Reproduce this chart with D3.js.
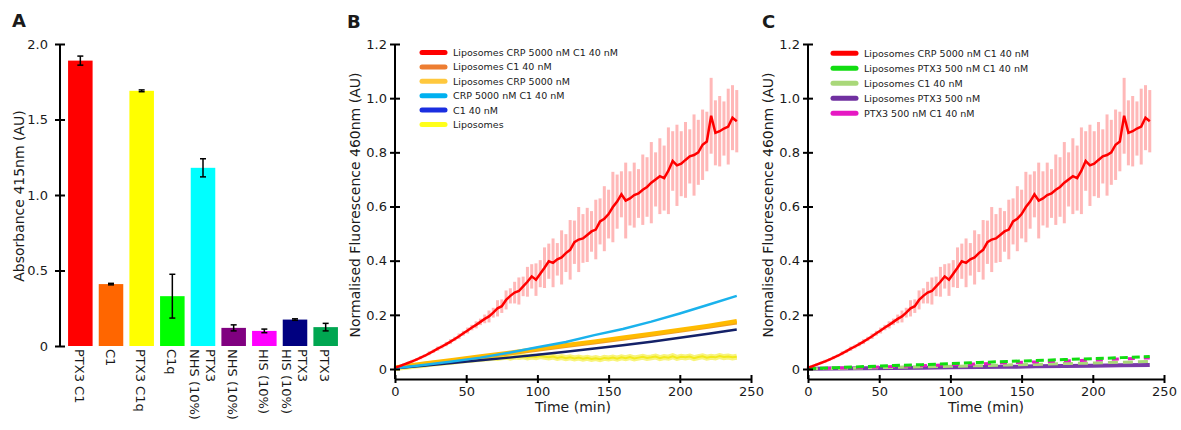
<!DOCTYPE html>
<html>
<head>
<meta charset="utf-8">
<script src="https://cdn.jsdelivr.net/npm/d3@7"></script>
<style>
  body { margin: 0; background: #fff; }
  text { font-family: "DejaVu Sans", Verdana, sans-serif; fill: #1a1a1a; }
</style>
</head>
<body>
<script>
// ---- panel A data
const catsA = ["PTX3 C1", "C1", "PTX3 C1q", "C1q", "NHS PTX3", "NHS", "HIS", "HIS PTX3", "PTX3"]
const labelsA = [["PTX3 C1"], ["C1"], ["PTX3 C1q"], ["C1q"], ["PTX3", "NHS (10%)"], ["NHS (10%)"], ["HIS (10%)"], ["PTX3", "HIS (10%)"], ["PTX3"]]
const valuesA = [1.89, 0.41, 1.69, 0.33, 1.18, 0.12, 0.10, 0.175, 0.125]
const errorsA = [0.03, 0.005, 0.006, 0.145, 0.06, 0.02, 0.012, 0.005, 0.025]
const colorsA = ["#ff0000", "#ff6600", "#ffff00", "#00ff00", "#00ffff", "#800080", "#ff00ff", "#000080", "#00a651"]
const ticksA = [0, 0.5, 1.0, 1.5, 2.0]

// ---- time courses (B and C)
const timeFine = d3.range(0, 241, 3)   // every 3 min
const timeCoarse = d3.range(0, 241, 20)
const redMean = [0.005, 0.010, 0.016, 0.022, 0.028, 0.035, 0.042, 0.049, 0.058, 0.066,
  0.075, 0.083, 0.092, 0.101, 0.111, 0.121, 0.132, 0.142, 0.153, 0.163,
  0.174, 0.185, 0.194, 0.208, 0.224, 0.232, 0.255, 0.270, 0.282, 0.288,
  0.305, 0.322, 0.342, 0.330, 0.352, 0.374, 0.398, 0.392, 0.405, 0.412,
  0.428, 0.440, 0.468, 0.478, 0.482, 0.495, 0.508, 0.515, 0.545, 0.555,
  0.572, 0.598, 0.618, 0.645, 0.622, 0.630, 0.642, 0.648, 0.662, 0.672,
  0.688, 0.700, 0.712, 0.705, 0.732, 0.768, 0.752, 0.758, 0.772, 0.785,
  0.790, 0.800, 0.828, 0.840, 0.935, 0.872, 0.878, 0.888, 0.895, 0.928, 0.915]
const redErr = [0.004, 0.004, 0.005, 0.004, 0.006, 0.005, 0.006, 0.005, 0.007, 0.006,
  0.008, 0.007, 0.008, 0.009, 0.008, 0.010, 0.009, 0.011, 0.010, 0.013,
  0.012, 0.016, 0.022, 0.018, 0.030, 0.025, 0.035, 0.028, 0.040, 0.050,
  0.036, 0.055, 0.045, 0.060, 0.050, 0.075, 0.065, 0.090, 0.060, 0.100,
  0.070, 0.110, 0.080, 0.120, 0.090, 0.100, 0.075, 0.110, 0.085, 0.120,
  0.090, 0.130, 0.100, 0.085, 0.140, 0.100, 0.120, 0.090, 0.130, 0.110,
  0.150, 0.100, 0.140, 0.120, 0.160, 0.110, 0.150, 0.120, 0.140, 0.100,
  0.150, 0.120, 0.130, 0.110, 0.140, 0.120, 0.130, 0.100, 0.140, 0.120, 0.115]
const yellowMean = [0.003, 0.005, 0.007, 0.009, 0.011, 0.013, 0.014, 0.016, 0.018, 0.020,
  0.021, 0.023, 0.025, 0.026, 0.028, 0.030, 0.031, 0.033, 0.034, 0.036,
  0.037, 0.039, 0.040, 0.042, 0.041, 0.043, 0.045, 0.042, 0.046, 0.044,
  0.047, 0.043, 0.046, 0.044, 0.048, 0.045, 0.043, 0.046, 0.041, 0.044,
  0.040, 0.043, 0.039, 0.042, 0.038, 0.041, 0.037, 0.040, 0.036, 0.041,
  0.039, 0.042, 0.038, 0.043, 0.040, 0.044, 0.039, 0.042, 0.045, 0.041,
  0.043, 0.046, 0.040, 0.044, 0.042, 0.047, 0.041, 0.045, 0.043, 0.046,
  0.040, 0.044, 0.047, 0.042, 0.045, 0.043, 0.048, 0.044, 0.046, 0.043, 0.045]
const cyanB   = [0.003, 0.015, 0.028, 0.042, 0.060, 0.080, 0.100, 0.125, 0.148, 0.175, 0.205, 0.237, 0.270]
const goldB   = [0.005, 0.020, 0.033, 0.047, 0.060, 0.075, 0.089, 0.102, 0.116, 0.130, 0.145, 0.160, 0.177]
const orangeB = [0.004, 0.018, 0.030, 0.044, 0.057, 0.071, 0.085, 0.098, 0.112, 0.126, 0.141, 0.156, 0.172]
const navyB   = [0.003, 0.012, 0.022, 0.032, 0.042, 0.053, 0.064, 0.076, 0.088, 0.101, 0.115, 0.130, 0.146]
const greenC  = [0.001, 0.005, 0.009, 0.013, 0.016, 0.020, 0.024, 0.028, 0.031, 0.035, 0.038, 0.042, 0.046]
const magentaC = [0.001, 0.003, 0.006, 0.009, 0.012, 0.016, 0.019, 0.023, 0.026, 0.030, 0.033, 0.037, 0.041]
const lightGreenC = [0.001, 0.002, 0.004, 0.006, 0.008, 0.010, 0.012, 0.015, 0.017, 0.020, 0.022, 0.025, 0.028]
const purpleC = [0.001, 0.002, 0.003, 0.004, 0.005, 0.006, 0.007, 0.008, 0.010, 0.011, 0.012, 0.014, 0.015]

const legendB = ["Liposomes CRP 5000 nM C1 40 nM", "Liposomes C1 40 nM", "Liposomes CRP 5000 nM", "CRP 5000 nM C1 40 nM", "C1 40 nM", "Liposomes"]
const legendBColors = ["#ff0000", "#ed7d31", "#ffc83d", "#00b0f0", "#1a2ee0", "#ffff1a"]
const legendC = ["Liposomes CRP 5000 nM C1 40 nM", "Liposomes PTX3 500 nM C1 40 nM", "Liposomes C1 40 nM", "Liposomes PTX3 500 nM", "PTX3 500 nM C1 40 nM"]
const legendCColors = ["#ff0000", "#11dd11", "#a9d879", "#7030a0", "#e619c3"]
const ticksY = [0, 0.2, 0.4, 0.6, 0.8, 1.0, 1.2]
const ticksX = [0, 50, 100, 150, 200, 250]

const svg = d3.select("body").append("svg").attr("width", 1181).attr("height", 430)

function yAxis(scale, x, ticks, fmt, pad, bottom) {
    const g = svg.append("g").attr("transform", "translate(" + x + ",0)")
        .call(d3.axisLeft(scale).tickValues(ticks).tickFormat(fmt).tickSize(5).tickPadding(pad))
    g.select(".domain").remove()
    g.selectAll(".tick line").attr("x1", 5).attr("stroke-width", 2)
    g.selectAll(".tick text").attr("font-size", 13).attr("fill", "#1a1a1a")
    g.append("line").attr("y1", scale.range()[1]).attr("y2", bottom)
        .attr("stroke", "#000").attr("stroke-width", 2)
}

function xAxis(scale, y) {
    const g = svg.append("g").attr("transform", "translate(0," + y + ")")
        .call(d3.axisBottom(scale).tickValues(ticksX).tickSize(4).tickSizeOuter(0).tickPadding(4))
    g.select(".domain").attr("stroke-width", 2)
    g.selectAll(".tick line").attr("y1", -4).attr("stroke-width", 2)
    g.selectAll(".tick text").attr("font-size", 13).attr("fill", "#1a1a1a")
}

function panelLetter(t, x, y) {
    svg.append("text").attr("x", x).attr("y", y).text(t)
        .attr("font-family", "Liberation Sans, Arial").attr("font-weight", "bold").attr("font-size", 18).attr("fill", "#000")
}

function yTitle(t, x, y) {
    svg.append("text").attr("transform", "translate(" + x + "," + y + ") rotate(-90)")
        .attr("text-anchor", "middle").attr("font-size", 14).text(t)
}

// ---------------- panel A
const yA = d3.scaleLinear([0, 2], [346, 44])
const xA = d3.scaleBand(catsA, [65, 341]).paddingInner(0.2).paddingOuter(0.1)

svg.append("g").selectAll("rect").data(catsA).join("rect")
    .attr("x", d => xA(d)).attr("width", xA.bandwidth())
    .attr("y", (d, i) => yA(valuesA[i])).attr("height", (d, i) => yA(0) - yA(valuesA[i]))
    .attr("fill", (d, i) => colorsA[i])

const errA = svg.append("g").attr("stroke", "#000").attr("stroke-width", 1.5)
catsA.forEach(function(c, i) {
    const cx = xA(c) + xA.bandwidth() / 2
    const lo = yA(valuesA[i] - errorsA[i]), hi = yA(valuesA[i] + errorsA[i])
    errA.append("line").attr("x1", cx).attr("x2", cx).attr("y1", lo).attr("y2", hi)
    errA.append("line").attr("x1", cx - 3).attr("x2", cx + 3).attr("y1", lo).attr("y2", lo)
    errA.append("line").attr("x1", cx - 3).attr("x2", cx + 3).attr("y1", hi).attr("y2", hi)
})

yAxis(yA, 60, ticksA, d => d === 0 ? "0" : d3.format(".1f")(d), 7, 346)

catsA.forEach(function(c, i) {
    const lines = labelsA[i]
    const g = svg.append("g").attr("transform", "translate(" + (xA(c) + xA.bandwidth() / 2 - 1) + ",349) rotate(90)")
    lines.forEach(function(l, j) {
        g.append("text").attr("x", 0).attr("y", (j - (lines.length - 1) / 2) * 16)
            .attr("dominant-baseline", "central").attr("font-size", 13).text(l)
    })
})

yTitle("Absorbance 415nm (AU)", 24, 196)
panelLetter("A", 12, 27)

// ---------------- panels B and C
const yB = d3.scaleLinear([0, 1.2], [369, 44])

function redSeries(x) {
    const g = svg.append("g")
    g.selectAll("line").data(timeFine).join("line")
        .attr("x1", d => x(d)).attr("x2", d => x(d))
        .attr("y1", (d, i) => yB(redMean[i] - redErr[i])).attr("y2", (d, i) => yB(redMean[i] + redErr[i]))
        .attr("stroke", "#ff8a8a").attr("stroke-width", 3).attr("opacity", 0.6)
    return g
}

function drawLine(x, times, vals, color, width, dash) {
    const line = d3.line().x((d, i) => x(times[i])).y(d => yB(d))
    svg.append("path").datum(vals).attr("d", line)
        .attr("fill", "none").attr("stroke", color).attr("stroke-width", width)
        .attr("stroke-dasharray", dash || null)
}

function legend(names, colors, x0, y0, step) {
    names.forEach(function(n, i) {
        const y = y0 + i * step
        svg.append("line").attr("x1", x0).attr("x2", x0 + 23).attr("y1", y).attr("y2", y)
            .attr("stroke", colors[i]).attr("stroke-width", 5).attr("stroke-linecap", "round")
        svg.append("text").attr("x", x0 + 31).attr("y", y).attr("dominant-baseline", "central")
            .attr("font-size", 9.5).text(n)
    })
}

// B
const xB = d3.scaleLinear([0, 250], [395, 751])
redSeries(xB)
drawLine(xB, timeFine, yellowMean, "#f8f47a", 6)
drawLine(xB, timeFine, yellowMean, "#f2ea1e", 2)
drawLine(xB, timeCoarse, orangeB, "#f0a020", 4)
drawLine(xB, timeCoarse, goldB, "#ffbb00", 4)
drawLine(xB, timeCoarse, navyB, "#142168", 2.5)
drawLine(xB, timeCoarse, cyanB, "#1ab2ec", 2.5)
drawLine(xB, timeFine, redMean, "#ff0000", 2.5)
yAxis(yB, 395, ticksY, d => d === 0 ? "0" : d3.format(".1f")(d), 3, 379)
xAxis(xB, 379)
svg.append("text").attr("x", 573).attr("y", 412).attr("text-anchor", "middle").attr("font-size", 14).text("Time (min)")
yTitle("Normalised Fluorescence 460nm (AU)", 360, 205)
legend(legendB, legendBColors, 422, 52.5, 14.4)
panelLetter("B", 347, 28)

// C
const xC = d3.scaleLinear([0, 250], [808, 1164])
redSeries(xC)
drawLine(xC, timeCoarse, purpleC, "#7a3aa8", 4)
drawLine(xC, timeCoarse, lightGreenC, "#a9d879", 3, "10,5")
drawLine(xC, timeCoarse, magentaC, "#e619c3", 3, "7,9")
drawLine(xC, timeCoarse, greenC, "#11dd11", 3, "8,4")
drawLine(xC, timeFine, redMean, "#ff0000", 2.5)
yAxis(yB, 808, ticksY, d => d === 0 ? "0" : d3.format(".1f")(d), 3, 379)
xAxis(xC, 379)
svg.append("text").attr("x", 986).attr("y", 412).attr("text-anchor", "middle").attr("font-size", 14).text("Time (min)")
yTitle("Normalised Fluorescence 460nm (AU)", 773, 205)
legend(legendC, legendCColors, 833, 53.3, 15)
panelLetter("C", 762, 28)
</script>
</body>
</html>
